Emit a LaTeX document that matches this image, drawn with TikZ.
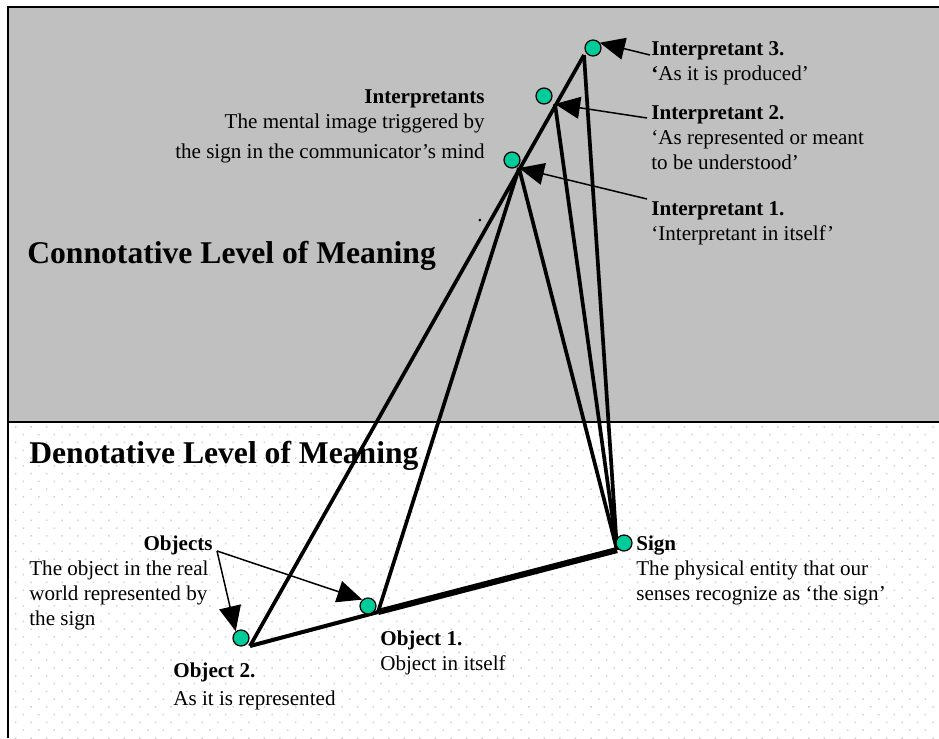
\documentclass[tikz,border=0pt]{standalone}
\usepackage{fontspec}
\setmainfont{Liberation Serif}
\usetikzlibrary{arrows.meta,patterns.meta}
\definecolor{bggray}{RGB}{192,192,192}
\definecolor{dotteal}{RGB}{0,204,153}
\begin{document}
\begin{tikzpicture}[x=0.02cm,y=-0.02cm,font=\fontsize{12}{14.2}\selectfont,
  pt/.style={circle,draw,fill=dotteal,line width=0.7pt,minimum size=0.32cm,inner sep=0},
  leg/.style={line width=2.1pt},
  txt/.style={inner sep=0,align=left,anchor=north west},
  lbl/.style={line width=0.85pt,-{Triangle[length=0.5cm,width=0.44cm]}},
  big/.style={font=\fontsize{18}{22}\selectfont\bfseries,inner sep=0,anchor=base west}]
\useasboundingbox (0,0) rectangle (939,738);
% the two levels
\fill[bggray] (8,7) rectangle (939,422);
\fill[white] (8,422) rectangle (939,738);
\fill[pattern={Dots[radius=0.6pt,distance=0.22cm,angle=45]},pattern color=black!18] (8,422) rectangle (939,738);
\draw[line width=1.1pt] (939,7) -- (8,7) -- (8,738) (8,422) -- (939,422);
\node[big] (conn) at (27,263) {Connotative Level of Meaning};
\node[big] (deno) at (29,463) {Denotative Level of Meaning};
% triangle corners
\coordinate (o2) at (250,646);
\coordinate (o1) at (378,612);
\coordinate (s) at (617,550);
\coordinate (i1) at (519,168);
\coordinate (i2) at (555,104);
\coordinate (i3) at (584,55);
\draw[leg] (o2) -- (i3) (o1) -- (i1);
\foreach \i in {i1,i2,i3} \draw[leg] (s) -- (\i);
\draw[line width=2.3pt] (o2) -- (o1);
\draw[line width=3.5pt] (o1) -- (s);
% dots
\node[pt] (d1) at (512,160) {};
\node[pt] (d2) at (544,96) {};
\node[pt] (d3) at (593,48) {};
\node[pt] (ds) at (624,543) {};
\node[pt] (do1) at (368,606) {};
\node[pt] (do2) at (241,638) {};
% labels
\node[txt] (int3) at (651,41) {\textbf{Interpretant 3.}\\\textbf{‘}As it is produced’};
\node[txt] (int2) at (651,105) {\textbf{Interpretant 2.}\\‘As represented or meant\\to be understood’};
\node[txt] (int1) at (651,201) {\textbf{Interpretant 1.}\\‘Interpretant in itself’};
\node[txt,anchor=north east,align=right] (interp) at (485,89) {\textbf{Interpretants}\\The mental image triggered by\\[0.1cm]the sign in the communicator’s mind};
\node[inner sep=0] (stray) at (480,221) {.};
\node[txt,anchor=north east] (objs) at (213,536) {\textbf{Objects}};
\node[txt] (objdesc) at (29,561) {The object in the real\\world represented by\\the sign};
\node[txt] (obj2) at (173,663) {\textbf{Object 2.}\\[0.06cm]As it is represented};
\node[txt] (obj1) at (380,631) {\textbf{Object 1.}\\Object in itself};
\node[txt] (sign) at (636,536) {\textbf{Sign}\\The physical entity that our\\senses recognize as ‘the sign’};
% pointers
\coordinate (a3) at (650,55);
\coordinate (a2) at (647,118);
\coordinate (a1) at (647,199);
\coordinate (ao) at (217,551);
\draw[lbl] (a3) -- (d3.38);
\draw[lbl] (a2) -- (i2);
\draw[lbl] (a1) -- (i1);
\draw[lbl] (ao) -- (do2.128);
\draw[lbl] (ao) -- (do1.132);
\end{tikzpicture}
\end{document}
